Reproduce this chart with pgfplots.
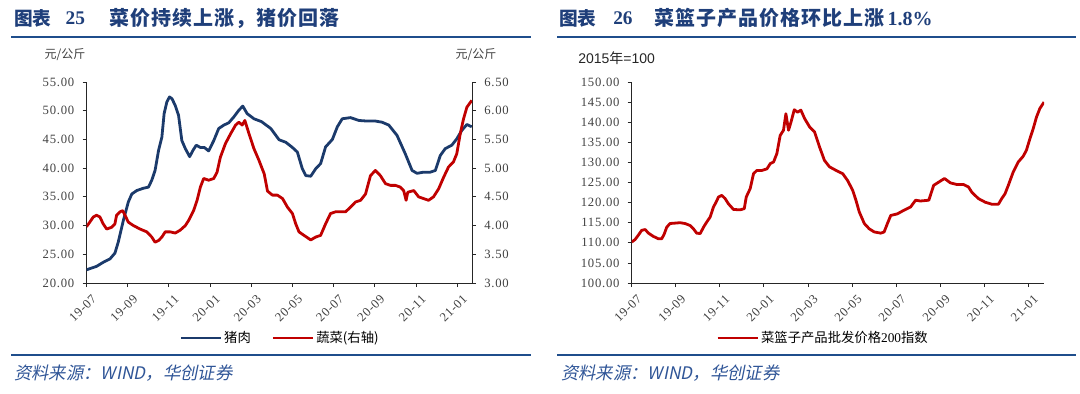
\documentclass[border=0pt]{standalone}
\usepackage{pgfplots}
\pgfplotsset{compat=1.18}
\usepackage{pgfplotstable}
\usepackage{fontspec}
\setmainfont{Liberation Serif}
\newfontfamily\cjk{Noto Sans CJK SC}
\newfontfamily\cjksp[LetterSpace=5]{Noto Sans CJK SC}
\newfontfamily\cjkit[FakeSlant=0.2]{Noto Sans CJK SC}
\newfontfamily\sansf{Liberation Sans}
\newfontfamily\tickf[LetterSpace=6]{Liberation Serif}
\definecolor{navy}{HTML}{1B3A6B}
\definecolor{vred}{HTML}{C00000}
\definecolor{titleblue}{HTML}{1F3F7A}
\definecolor{rulec}{HTML}{1F4E8C}
\definecolor{srcblue}{HTML}{2F5597}
\definecolor{tickc}{HTML}{404040}

\pgfplotstableread{
m v
0 22.3
0.49 22.9
0.81 23.6
1.14 24.2
1.38 25.2
1.54 27.1
1.79 30.9
2.03 34.1
2.20 35.5
2.44 36.1
2.76 36.5
3.01 36.7
3.17 37.9
3.33 39.6
3.50 43.1
3.66 45.4
3.77 49.5
3.90 51.5
4.03 52.4
4.15 52.1
4.31 50.9
4.47 49.2
4.63 44.8
4.80 43.4
5.01 42.0
5.17 43.1
5.33 44.0
5.53 43.6
5.72 43.6
5.93 43.0
6.18 44.8
6.42 46.9
6.67 47.5
6.91 47.9
7.15 48.9
7.40 50.1
7.59 50.8
7.80 49.5
8.13 48.6
8.50 48.1
8.95 46.9
9.35 44.95
9.68 44.5
10.0 43.6
10.24 42.8
10.48 39.9
10.65 38.7
10.89 38.6
11.13 39.9
11.37 40.8
11.61 43.7
11.94 45.0
12.18 47.2
12.42 48.6
12.82 48.8
13.23 48.3
13.63 48.2
14.03 48.2
14.35 48.0
14.68 47.5
15.08 45.7
15.48 42.5
15.81 39.6
16.05 39.1
16.37 39.3
16.69 39.3
16.94 39.6
17.18 42.2
17.42 43.4
17.74 44.0
17.98 45.1
18.23 46.6
18.47 47.6
18.71 47.2
}\pork

\pgfplotstableread{
m v
0 3.98
0.16 4.06
0.33 4.15
0.49 4.18
0.65 4.15
0.81 4.03
0.98 3.94
1.22 3.97
1.38 4.03
1.46 4.18
1.63 4.24
1.76 4.26
1.87 4.18
2.03 4.06
2.28 4.00
2.60 3.94
2.93 3.89
3.17 3.80
3.33 3.71
3.50 3.74
3.66 3.80
3.82 3.89
4.07 3.89
4.31 3.87
4.55 3.92
4.80 4.00
4.96 4.09
5.20 4.26
5.37 4.44
5.53 4.67
5.69 4.82
5.93 4.79
6.18 4.82
6.34 4.93
6.50 5.19
6.75 5.43
7.00 5.60
7.24 5.75
7.40 5.80
7.56 5.75
7.69 5.83
7.89 5.60
8.13 5.34
8.37 5.14
8.63 4.90
8.79 4.60
9.03 4.53
9.27 4.53
9.52 4.47
9.76 4.32
10.0 4.21
10.16 4.03
10.32 3.89
10.56 3.83
10.89 3.75
11.13 3.80
11.37 3.83
11.61 4.03
11.85 4.21
12.10 4.24
12.34 4.24
12.58 4.24
12.82 4.32
13.06 4.41
13.31 4.44
13.55 4.55
13.79 4.87
14.03 4.96
14.27 4.87
14.52 4.73
14.76 4.70
15.00 4.70
15.24 4.67
15.40 4.61
15.52 4.44
15.60 4.58
15.89 4.61
16.13 4.50
16.37 4.47
16.61 4.44
16.85 4.50
17.10 4.64
17.34 4.84
17.58 5.02
17.82 5.11
17.98 5.25
18.15 5.60
18.31 5.86
18.47 6.06
18.71 6.18
}\veg

\pgfplotstableread{
m v
0 110.2
0.15 110.8
0.30 111.9
0.45 113.1
0.61 113.3
0.76 112.4
0.98 111.6
1.21 111.0
1.36 111.0
1.47 112.1
1.59 113.9
1.74 114.8
1.97 114.9
2.20 115.0
2.42 114.8
2.65 114.3
2.80 113.5
2.95 112.4
3.11 112.3
3.26 113.9
3.41 115.2
3.56 116.4
3.71 118.9
3.83 120.1
3.94 121.4
4.09 121.8
4.24 121.0
4.39 119.7
4.62 118.3
4.92 118.2
5.11 118.5
5.20 121.4
5.38 123.5
5.53 127.2
5.68 128.0
5.91 128.0
6.14 128.4
6.29 129.7
6.44 130.1
6.59 132.2
6.74 136.7
6.89 138.0
7.00 142.1
7.12 138.0
7.23 140.0
7.38 143.1
7.53 142.5
7.68 143.0
7.85 140.9
8.08 138.8
8.30 137.6
8.53 133.8
8.75 130.5
8.98 128.9
9.28 128.0
9.58 127.2
9.80 125.5
10.03 123.1
10.18 120.6
10.33 117.7
10.56 114.8
10.78 113.5
11.01 112.7
11.31 112.4
11.46 112.7
11.61 114.8
11.76 116.8
12.06 117.2
12.36 118.1
12.66 118.9
12.89 120.6
13.11 120.4
13.49 120.6
13.71 124.3
13.94 125.1
14.20 126.0
14.47 124.9
14.77 124.5
15.07 124.5
15.29 123.9
15.44 122.6
15.74 121.0
16.05 120.1
16.35 119.6
16.65 119.6
16.80 121.0
16.95 122.2
17.10 124.3
17.32 127.6
17.55 130.1
17.77 131.5
17.92 133.0
18.08 135.9
18.23 138.4
18.38 141.3
18.53 143.4
18.72 145.0
}\basket

\pgfplotsset{
  common/.style={
    scale only axis, anchor=south west,
    height=150.75pt,
    xmin=0, xmax=18.72,
    xtick={0,2,...,18},
    xticklabels={19-07,19-09,19-11,20-01,20-03,20-05,20-07,20-09,20-11,21-01},
    tick align=outside,
    major tick length=3pt,
    axis line style={black!85, line width=0.6pt},
    tick style={black!85, line width=0.6pt},
    tick label style={font=\tickf\fontsize{9.5}{11}\selectfont, text=tickc},
    xticklabel style={rotate=45, anchor=north east, inner sep=1pt, yshift=-5pt},
    yticklabel style={inner xsep=6pt},
    /pgf/number format/assume math mode=true,
    yticklabel style={/pgf/number format/.cd, fixed, fixed zerofill, precision=2},
    legend style={draw=none, fill=none, font=\cjk\fontsize{10}{12}\selectfont, legend columns=2,
      nodes={inner xsep=1.5pt},
      /tikz/every even column/.append style={column sep=14pt}},
    legend image code/.code={\draw[#1] (0pt,0pt) -- (30pt,0pt);},
  }
}

\begin{document}
\begin{tikzpicture}
\useasboundingbox (0,0) rectangle (810pt,-294.75pt);

% ---------- titles and rules ----------
\node[anchor=west, text=titleblue, inner sep=0pt, font=\cjk\bfseries\fontsize{14}{16}\selectfont] at (10.5pt,-13.5pt) {图表};
\node[anchor=west, text=titleblue, inner sep=0pt, font=\bfseries\fontsize{14.5}{16}\selectfont] at (49pt,-13.5pt) {25};
\node[anchor=west, text=titleblue, inner sep=0pt, font=\cjksp\bfseries\fontsize{15}{17}\selectfont] at (81.75pt,-13.5pt) {菜价持续上涨，猪价回落};
\draw[rulec, line width=1.3pt] (8.25pt,-27.75pt) -- (398.25pt,-27.75pt);

\node[anchor=west, text=titleblue, inner sep=0pt, font=\cjk\bfseries\fontsize{14}{16}\selectfont] at (419.25pt,-13.5pt) {图表};
\node[anchor=west, text=titleblue, inner sep=0pt, font=\bfseries\fontsize{14.5}{16}\selectfont] at (459.75pt,-13.5pt) {26};
\node[anchor=west, text=titleblue, inner sep=0pt, font=\cjksp\bfseries\fontsize{15}{17}\selectfont] at (490.5pt,-13.5pt) {菜篮子产品价格环比上涨\,{\rmfamily\bfseries 1.8\%}};
\draw[rulec, line width=1.3pt] (417.75pt,-27.75pt) -- (807pt,-27.75pt);

\node[text=tickc, inner sep=0pt, font=\cjk\fontsize{9}{11}\selectfont] at (48.75pt,-41.25pt) {元/公斤};
\node[text=tickc, inner sep=0pt, font=\cjk\fontsize{9}{11}\selectfont] at (357pt,-41.25pt) {元/公斤};
\node[anchor=west, text=black!85, inner sep=0pt, font=\sansf\fontsize{10.5}{12}\selectfont] at (433.5pt,-43.5pt) {2015{\cjk 年}=100};

\draw[rulec, line width=1.3pt] (8.25pt,-266.25pt) -- (398.25pt,-266.25pt);
\draw[rulec, line width=1.3pt] (417.75pt,-266.25pt) -- (807pt,-266.25pt);
\node[anchor=west, text=srcblue, inner sep=0pt, font=\cjkit\fontsize{13}{15}\selectfont] at (10.5pt,-279.75pt) {资料来源：WIND，华创证券};
\node[anchor=west, text=srcblue, inner sep=0pt, font=\cjkit\fontsize{13}{15}\selectfont] at (420.75pt,-279.75pt) {资料来源：WIND，华创证券};

% ---------- left panel ----------
\begin{axis}[common,
  at={(64.875pt,-212.25pt)}, width=289.125pt,
  ymin=20, ymax=55, ytick={20,25,...,55},
  axis x line*=bottom, axis y line*=left,
]
\addplot[navy, line width=2.1pt, line join=round] table[x=m, y=v] {\pork};
\end{axis}
\begin{axis}[common,
  at={(64.875pt,-212.25pt)}, width=289.125pt,
  ymin=3, ymax=6.5, ytick={3,3.5,...,6.5},
  axis x line=none, axis y line*=right,
  legend style={at={(0.502,-0.274)}, anchor=center},
]
\addlegendimage{navy, line width=2.1pt}
\addlegendentry{猪肉}
\addplot[vred, line width=2.1pt, line join=round] table[x=m, y=v] {\veg};
\addlegendentry{蔬菜(右轴)}
\end{axis}

% ---------- right panel ----------
\begin{axis}[common,
  at={(473.8pt,-212.25pt)}, width=309.2pt,
  ymin=100, ymax=150, ytick={100,105,...,150},
  axis x line*=bottom, axis y line*=left,
  legend style={at={(0.464,-0.274)}, anchor=center},
]
\addplot[vred, line width=2.1pt, line join=round] table[x=m, y=v] {\basket};
\addlegendentry{菜篮子产品批发价格{\rmfamily 200}指数}
\end{axis}
\end{tikzpicture}
\end{document}
